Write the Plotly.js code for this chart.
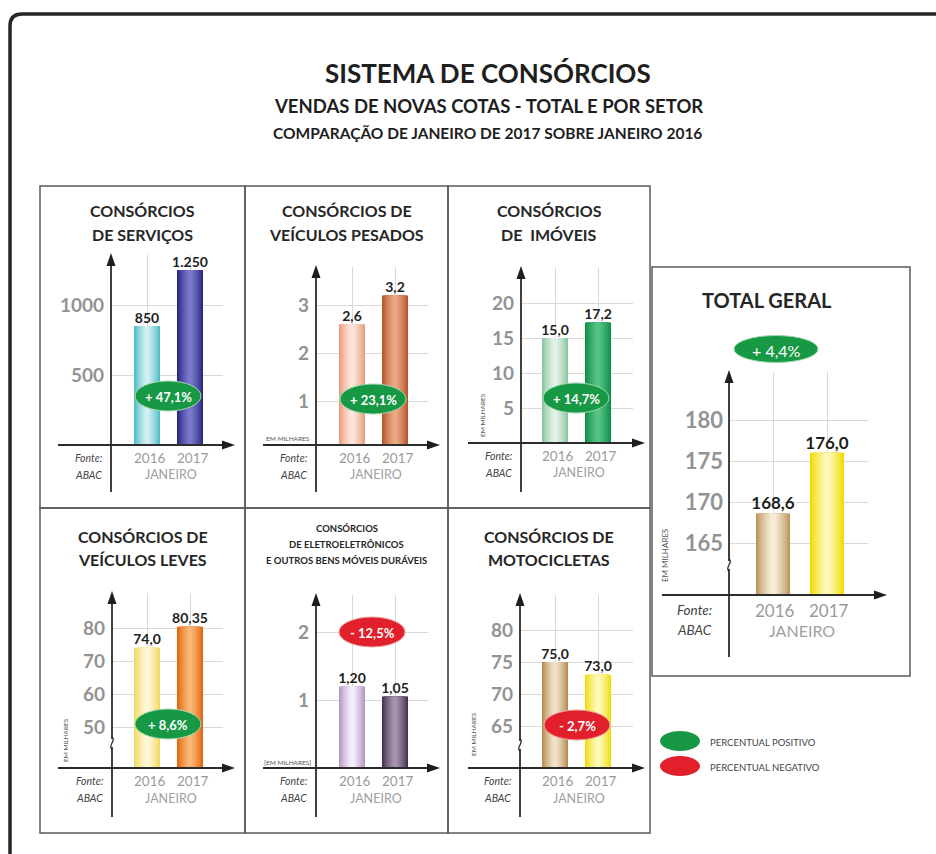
<!DOCTYPE html>
<html><head><meta charset="utf-8">
<script src="https://cdn.plot.ly/plotly-3.0.1.min.js"></script>
<style>html,body{margin:0;padding:0;background:#fff}#chart{width:936px;height:854px}</style>
</head><body><div id="chart"></div>
<script>
// ---------------- DATA ----------------
const years = ['2016', '2017'];
const periodLabel = 'JANEIRO';
const servicos = [850, 1250];
const servicosText = ['850', '1.250'];
const servicosTicks = [500, 1000];
const pesados = [2.6, 3.2];
const pesadosText = ['2,6', '3,2'];
const pesadosTicks = [1, 2, 3];
const imoveis = [15.0, 17.2];
const imoveisText = ['15,0', '17,2'];
const imoveisTicks = [5, 10, 15, 20];
const totalGeral = [168.6, 176.0];
const totalText = ['168,6', '176,0'];
const totalTicks = [165, 170, 175, 180];
const leves = [74.0, 80.35];
const levesText = ['74,0', '80,35'];
const levesTicks = [50, 60, 70, 80];
const eletro = [1.20, 1.05];
const eletroText = ['1,20', '1,05'];
const eletroTicks = [1, 2];
const motos = [75.0, 73.0];
const motosText = ['75,0', '73,0'];
const motosTicks = [65, 70, 75, 80];
const variacoes = ['+ 47,1%', '+ 23,1%', '+ 14,7%', '+ 4,4%', '+ 8,6%', '- 12,5%', '- 2,7%'];

// ---------------- LAYOUT HELPERS ----------------
const W = 936, H = 854;
const X = p => p / W;
const Y = p => 1 - p / H;
const FONT = 'Lato, "Open Sans", sans-serif';
const GREEN = '#179845', RED = '#e2202b';

const panels = [
  {title: ['CONSÓRCIOS', 'DE SERVIÇOS'], titleY: [211, 235], tsize: 16, box: [40, 186, 245, 508],
   vals: servicos, txt: servicosText, ticks: servicosTicks, var: variacoes[0],
   ax: 111, ay: 445, top: 255, gridR: 223, arrowR: 233, left: 58, bottom: 492,
   ref: [1000, 305], scale: 0.14, c: [147, 190], bw: 26, ell: [168, 396, 66, 30], em: null, brk: null,
   edge: ['#4dbcc6', '#29277e'], mid: ['#d2f0f1', '#7a77cc']},
  {title: ['CONSÓRCIOS DE', 'VEÍCULOS PESADOS'], titleY: [211, 235], tsize: 16, box: [245, 186, 448, 508],
   vals: pesados, txt: pesadosText, ticks: pesadosTicks, var: variacoes[1],
   ax: 316, ay: 445, top: 267, gridR: 428, arrowR: 438, left: 263, bottom: 492,
   ref: [3, 305], scale: 48, c: [352, 395], bw: 26, ell: [373, 399, 66, 30], em: {t: 'EM MILHARES', x: 288, y: 438, rot: 0}, brk: null,
   edge: ['#ec9c7c', '#b5562c'], mid: ['#fce6dc', '#e9a985']},
  {title: ['CONSÓRCIOS', 'DE  IMÓVEIS'], titleY: [211, 235], tsize: 16, box: [448, 186, 650, 508],
   vals: imoveis, txt: imoveisText, ticks: imoveisTicks, var: variacoes[2],
   ax: 521, ay: 443, top: 268, gridR: 633, arrowR: 643, left: 468, bottom: 492,
   ref: [20, 303], scale: 7, c: [555, 598], bw: 26, ell: [576, 398, 66, 30], em: {t: 'EM MILHARES', x: 482, y: 415, rot: -90}, brk: null,
   edge: ['#86c79d', '#0d8f45'], mid: ['#e2f2e8', '#56c285']},
  {title: ['TOTAL GERAL'], titleY: [300], tsize: 20, box: [652, 267, 910, 676],
   vals: totalGeral, txt: totalText, ticks: totalTicks, var: variacoes[3],
   ax: 729, ay: 595, top: 372, gridR: 868, arrowR: 885, left: 662, bottom: 657,
   ref: [180, 420], scale: 8.2, c: [773, 827], bw: 34, ell: [776, 349, 84, 27], em: {t: 'EM MILHARES', x: 665, y: 556, rot: -90}, brk: 565,
   big: true,
   edge: ['#bc965c', '#f0dc00'], mid: ['#f6ecd8', '#fdf8b8']},
  {title: ['CONSÓRCIOS DE', 'VEÍCULOS LEVES'], titleY: [536, 559], tsize: 16, box: [40, 508, 245, 833],
   vals: leves, txt: levesText, ticks: levesTicks, var: variacoes[4],
   ax: 112, ay: 768, top: 593, gridR: 223, arrowR: 233, left: 58, bottom: 817,
   ref: [80, 628], scale: 3.3, c: [147, 190], bw: 26, ell: [168, 724, 66, 30], em: {t: 'EM MILHARES', x: 65, y: 740, rot: -90}, brk: 743,
   edge: ['#f1d85e', '#e4650c'], mid: ['#fef8d8', '#fab676']},
  {title: ['CONSÓRCIOS', 'DE ELETROELETRÔNICOS', 'E OUTROS BENS MÓVEIS DURÁVEIS'], titleY: [528, 544, 560], tsize: 9.5, box: [245, 508, 448, 833],
   vals: eletro, txt: eletroText, ticks: eletroTicks, var: variacoes[5],
   ax: 316, ay: 768, top: 595, gridR: 428, arrowR: 438, left: 263, bottom: 817,
   ref: [2, 632], scale: 68, c: [352, 395], bw: 26, ell: [372, 632, 66, 30], em: {t: '[EM MILHARES]', x: 287, y: 762, rot: 0}, brk: null,
   edge: ['#b596c6', '#47304e'], mid: ['#f4ecf8', '#a594ac']},
  {title: ['CONSÓRCIOS DE', 'MOTOCICLETAS'], titleY: [536, 559], tsize: 16, box: [448, 508, 650, 833],
   vals: motos, txt: motosText, ticks: motosTicks, var: variacoes[6],
   ax: 520, ay: 768, top: 595, gridR: 633, arrowR: 643, left: 468, bottom: 817,
   ref: [80, 630], scale: 6.4, c: [555, 598], bw: 26, ell: [577, 725, 66, 30], em: {t: 'EM MILHARES', x: 473, y: 734, rot: -90}, brk: 745,
   edge: ['#b68c53', '#f0dc0c'], mid: ['#f0e2c8', '#fdf9b8']}
];

const traces = [];
const layout = {
  width: W, height: H, margin: {l: 0, r: 0, t: 0, b: 0},
  paper_bgcolor: '#ffffff', plot_bgcolor: 'rgba(0,0,0,0)',
  showlegend: false, barmode: 'overlay',
  font: {family: FONT},
  shapes: [], annotations: []
};
const shapes = layout.shapes, ann = layout.annotations;

function path(pts, close) {
  return pts.map((p, i) => (i ? 'L' : 'M') + X(p[0]).toFixed(5) + ',' + Y(p[1]).toFixed(5)).join(' ') + (close ? ' Z' : '');
}
function text(t, x, y, o) {
  ann.push(Object.assign({text: t, x: X(x), y: Y(y), xref: 'paper', yref: 'paper', showarrow: false,
    xanchor: 'center', yanchor: 'middle', font: {family: FONT, size: 12, color: '#222'}}, o || {}));
}
function hex2rgb(h) { return [1, 3, 5].map(i => parseInt(h.substr(i, 2), 16)); }
function mix(a, b, t) {
  const A = hex2rgb(a), B = hex2rgb(b);
  return 'rgb(' + A.map((v, i) => Math.round(v + (B[i] - v) * t)).join(',') + ')';
}

// outer frame
shapes.push({type: 'path', xref: 'paper', yref: 'paper', layer: 'above',
  path: 'M ' + X(10) + ',' + Y(H + 20) + ' L ' + X(10) + ',' + Y(26) + ' Q ' + X(10) + ',' + Y(14) + ' ' + X(22) + ',' + Y(14) + ' L ' + X(W + 20) + ',' + Y(14),
  line: {color: '#262626', width: 3.5}});

// main titles
text('SISTEMA DE CONSÓRCIOS', 488, 73, {font: {family: FONT, size: 26, color: '#1e1e1e', weight: 'bold'}});
text('VENDAS DE NOVAS COTAS - TOTAL E POR SETOR', 488, 106, {font: {family: FONT, size: 18.5, color: '#1e1e1e', weight: 'bold'}});
text('COMPARAÇÃO DE JANEIRO DE 2017 SOBRE JANEIRO 2016', 487, 133, {font: {family: FONT, size: 15.5, color: '#1e1e1e', weight: 'bold'}});

// gradient layers: width fraction and blend factor towards the highlight colour
const NL = 9;
const layers = Array.from({length: NL}, (_, k) => ({f: 1 - k * 0.105, t: Math.pow(k / (NL - 1), 0.8)}));

panels.forEach((p, i) => {
  const s = i === 0 ? '' : String(i + 1);
  const u = p.c[1] - p.c[0];
  const v0 = p.ref[0] - (p.ay - p.ref[1]) / p.scale;
  const v1 = p.ref[0] + (p.ref[1] - p.top) / p.scale;
  layout['xaxis' + s] = {
    domain: [X(p.ax), X(p.gridR)], range: [(p.ax - p.c[0]) / u, (p.gridR - p.c[0]) / u],
    anchor: 'y' + s, type: 'category', categoryarray: years,
    showgrid: true, gridcolor: '#d9d9d9', gridwidth: 1, showline: false, zeroline: false,
    showticklabels: false, ticks: '', fixedrange: true
  };
  layout['yaxis' + s] = {
    domain: [Y(p.ay), Y(p.top)], range: [v0, v1], anchor: 'x' + s,
    tickvals: p.ticks, ticktext: p.ticks.map(String),
    tickfont: {family: FONT, size: p.big ? 22 : 19, color: '#939393', weight: 'bold'},
    ticklabelstandoff: p.big ? 5 : 6,
    showgrid: true, gridcolor: '#d9d9d9', gridwidth: 1, showline: false, zeroline: false,
    ticks: '', fixedrange: true
  };
  // bars (layered for a soft glossy gradient)
  layers.forEach(L => {
    traces.push({type: 'bar', x: years, y: p.vals, xaxis: 'x' + s, yaxis: 'y' + s,
      width: p.bw * L.f / u, marker: {color: [mix(p.edge[0], p.mid[0], L.t), mix(p.edge[1], p.mid[1], L.t)], line: {width: 0}},
      hoverinfo: 'skip', showlegend: false});
  });
  // value labels
  traces.push({type: 'scatter', mode: 'text', x: years, y: p.vals, xaxis: 'x' + s, yaxis: 'y' + s,
    text: p.txt, textposition: 'top center', cliponaxis: false, hoverinfo: 'skip', showlegend: false,
    textfont: {family: FONT, size: p.big ? 17 : 14, color: '#1e1e1e', weight: 'bold'}});

  // panel box
  shapes.push({type: 'rect', xref: 'paper', yref: 'paper', layer: 'below',
    x0: X(p.box[0]), x1: X(p.box[2]), y0: Y(p.box[3]), y1: Y(p.box[1]),
    line: {color: '#5a5a5a', width: 1.5}, fillcolor: 'rgba(0,0,0,0)'});
  // axes lines
  shapes.push({type: 'path', xref: 'paper', yref: 'paper', layer: 'above', path: path([[p.ax, p.bottom], [p.ax, p.top + 6]]), line: {color: '#2b2b2b', width: 1.8}});
  shapes.push({type: 'path', xref: 'paper', yref: 'paper', layer: 'above', path: path([[p.left, p.ay], [p.arrowR - 6, p.ay]]), line: {color: '#2b2b2b', width: 1.8}});
  shapes.push({type: 'path', xref: 'paper', yref: 'paper', layer: 'above', path: path([[p.ax, p.top - 2], [p.ax - 4.5, p.top + 11], [p.ax + 4.5, p.top + 11]], true), fillcolor: '#1e1e1e', line: {width: 0}});
  shapes.push({type: 'path', xref: 'paper', yref: 'paper', layer: 'above', path: path([[p.arrowR + 2, p.ay], [p.arrowR - 11, p.ay - 4.5], [p.arrowR - 11, p.ay + 4.5]], true), fillcolor: '#1e1e1e', line: {width: 0}});
  // axis break mark
  if (p.brk) {
    shapes.push({type: 'rect', xref: 'paper', yref: 'paper', layer: 'above', x0: X(p.ax - 3), x1: X(p.ax + 3), y0: Y(p.brk + 4), y1: Y(p.brk - 4), fillcolor: '#ffffff', line: {width: 0}});
    shapes.push({type: 'path', xref: 'paper', yref: 'paper', layer: 'above',
      path: 'M ' + X(p.ax) + ',' + Y(p.brk - 6) + ' C ' + X(p.ax + 5) + ',' + Y(p.brk - 3) + ' ' + X(p.ax - 5) + ',' + Y(p.brk + 3) + ' ' + X(p.ax) + ',' + Y(p.brk + 6),
      line: {color: '#2b2b2b', width: 1.3}});
  }
  // titles
  p.title.forEach((t, j) => text(t, (p.box[0] + p.box[2]) / 2 + (p.big ? -14 : 0), p.titleY[j],
    {font: {family: FONT, size: p.tsize, color: '#262626', weight: 'bold'}}));
  // category labels
  const dy1 = p.big ? 15 : 13, dy2 = p.big ? 35 : 30;
  years.forEach((yr, k) => text(yr, p.c[k] + 2, p.ay + dy1, {font: {family: FONT, size: p.big ? 17 : 13.5, color: '#9a9a9a'}}));
  text(periodLabel, (p.c[0] + p.c[1]) / 2 + 2, p.ay + dy2, {font: {family: FONT, size: p.big ? 16 : 12.5, color: '#a0a0a0'}});
  // source
  const fx = p.big ? p.ax - 54 : p.ax - 38;
  text('<i>Fonte:</i>', fx, p.ay + dy1, {xanchor: 'left', font: {family: FONT, size: p.big ? 13.5 : 10.5, color: '#444'}});
  text('<i>ABAC</i>', fx, p.ay + dy2, {xanchor: 'left', font: {family: FONT, size: p.big ? 13.5 : 10.5, color: '#444'}});
  // unit note
  if (p.em) text(p.em.t, p.em.x, p.em.y, {textangle: p.em.rot, font: {family: FONT, size: p.big ? 8 : 6.5, color: '#555'}});
  // variation badge
  const pos = p.var.trim().charAt(0) === '+';
  const e = p.ell;
  shapes.push({type: 'circle', xref: 'paper', yref: 'paper', layer: 'above',
    x0: X(e[0] - e[2] / 2), x1: X(e[0] + e[2] / 2), y0: Y(e[1] + e[3] / 2), y1: Y(e[1] - e[3] / 2),
    fillcolor: pos ? GREEN : RED, line: {color: pos ? '#9fd6b0' : '#f0a0a0', width: 1}});
  text(p.var, e[0], e[1] + 1, {font: {family: FONT, size: p.big ? 16 : 13, color: '#ffffff', weight: p.big ? 'normal' : 'bold'}});
});

// legend
[[GREEN, 'PERCENTUAL POSITIVO', 741], [RED, 'PERCENTUAL NEGATIVO', 766]].forEach(l => {
  shapes.push({type: 'circle', xref: 'paper', yref: 'paper', layer: 'above',
    x0: X(660), x1: X(700), y0: Y(l[2] + 10), y1: Y(l[2] - 10), fillcolor: l[0], line: {width: 0}});
  text(l[1], 708, l[2] + 1, {xanchor: 'left', font: {family: FONT, size: 9.5, color: '#444'}});
});

Plotly.newPlot('chart', traces, layout, {staticPlot: true, displayModeBar: false});
</script>
</body></html>
